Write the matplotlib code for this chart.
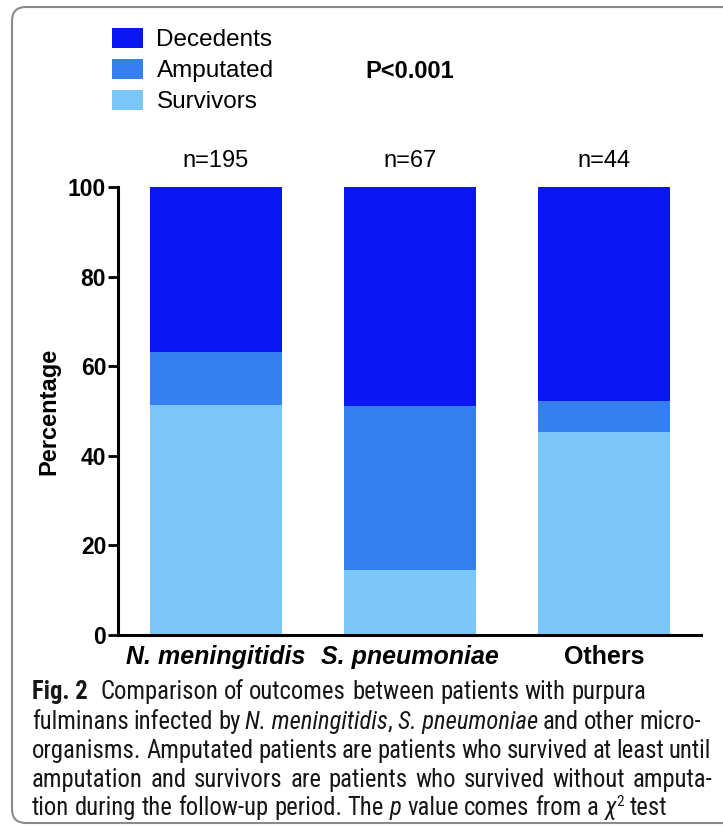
import matplotlib
matplotlib.use("Agg")
import matplotlib.pyplot as plt
from matplotlib import font_manager
from matplotlib.patches import FancyBboxPatch
from matplotlib.transforms import IdentityTransform

# data (percent of each group)
groups = ["N. meningitidis", "S. pneumoniae", "Others"]
group_n = [195, 67, 44]
survivors = [51.3, 14.6, 45.4]
amputated = [11.9, 36.5, 6.9]
decedents = [36.8, 48.9, 47.7]
p_text = "P<0.001"

W, H = 723, 826
chart_font = "Liberation Sans"

# condensed face for the caption, if one is there
cap_font = "Liberation Sans"
for name in ["Roboto Condensed", "Liberation Sans Narrow"]:
    try:
        font_manager.findfont(font_manager.FontProperties(family=name), fallback_to_default=False)
        cap_font = name
        break
    except ValueError:
        pass

plt.rcParams["font.family"] = [chart_font, "DejaVu Sans"]

fig = plt.figure(figsize=(W / 100, H / 100), dpi=100)
ax = fig.add_axes([118 / W, 1 - 635 / H, (701 - 118) / W, (635 - 187) / H])

x = list(range(len(groups)))
bw = 0.685
bottom2 = [s + a for s, a in zip(survivors, amputated)]
b1 = ax.bar(x, survivors, bw, color="#7cc7f9", label="Survivors")
b2 = ax.bar(x, amputated, bw, bottom=survivors, color="#3580f0", label="Amputated")
b3 = ax.bar(x, decedents, bw, bottom=bottom2, color="#0a17f2", label="Decedents")

ax.set_xlim(-0.505, 2.5)
ax.set_ylim(0, 100)
ax.set_yticks([0, 20, 40, 60, 80, 100])
for s in ["top", "right"]:
    ax.spines[s].set_visible(False)
for s in ["left", "bottom"]:
    ax.spines[s].set_linewidth(2.2)
ax.tick_params(axis="y", length=7, width=2, pad=1.5, labelsize=16.5)
ax.tick_params(axis="x", length=0, pad=7, labelsize=18)
for lab in ax.get_yticklabels():
    lab.set_fontweight("bold")
ax.set_xticks(x)
ax.set_xticklabels(groups)
for i, lab in enumerate(ax.get_xticklabels()):
    lab.set_fontweight("bold")
    if i < 2:
        lab.set_fontstyle("italic")

ax.set_ylabel("Percentage", fontsize=17, fontweight="bold")
ax.yaxis.set_label_coords(-0.0995, 0.5)

for i, n in enumerate(group_n):
    ax.annotate(f"n={n}", xy=(i, 100), xytext=(0, 14.4), textcoords="offset points",
                ha="center", va="baseline", fontsize=17)

fig.text(410 / W, 1 - 78 / H, p_text, ha="center", va="baseline", fontsize=17, fontweight="bold")

fig.legend(handles=[b3, b2, b1], loc="upper left", bbox_to_anchor=(112 / W, 1 - 28 / H),
           frameon=False, fontsize=17.5, handlelength=1.28, handleheight=0.9,
           handletextpad=0.55, labelspacing=0.3, borderpad=0, borderaxespad=0)

# rounded frame round the figure
frame = FancyBboxPatch((12, 3), 760, 816, boxstyle="round,pad=0,rounding_size=14",
                       transform=IdentityTransform(), fill=False, edgecolor="#8a8a8a", lw=1.5)
fig.add_artist(frame)

# caption lines: words split on spaces, | is a space kept inside a word,
# _..._ is italic, ^...^ is superscript, *...* is bold
caption = [
    ("*Fig.|2*", "Comparison of outcomes between patients with purpura", False),
    ("", "fulminans infected by _N.|meningitidis_, _S.|pneumoniae_ and other micro-", True),
    ("", "organisms. Amputated patients are patients who survived at least until", True),
    ("", "amputation and survivors are patients who survived without amputa-", True),
    ("", "tion during the follow-up period. The _p_ value comes from a _χ_^2^ test", False),
]
cap_size = 17.7
renderer = fig.canvas.get_renderer()


def parse_word(word):
    pieces = []
    style = "normal"
    buf = ""
    marks = {"_": "italic", "^": "sup", "*": "bold"}
    for c in word:
        if c in marks:
            if buf:
                pieces.append((buf, style))
            buf = ""
            style = "normal" if style == marks[c] else marks[c]
        else:
            buf += " " if c == "|" else c
    if buf:
        pieces.append((buf, style))
    return pieces


def piece_text(xp, yp, txt, style):
    kw = dict(fontsize=cap_size, family=[cap_font, "DejaVu Sans"], va="baseline", ha="left",
              transform=IdentityTransform(), color="#161616")
    if style == "italic":
        kw["fontstyle"] = "italic"
    if style == "sup":
        kw["fontsize"] = cap_size * 0.62
        yp += 9
    if style == "bold":
        kw["fontweight"] = "bold"
    t = fig.text(xp, yp, txt, **kw)
    return t, t.get_window_extent(renderer).width


t1 = fig.text(0, 0, "a a", fontsize=cap_size, family=[cap_font])
t2 = fig.text(0, 0, "aa", fontsize=cap_size, family=[cap_font])
space_w = t1.get_window_extent(renderer).width - t2.get_window_extent(renderer).width
t1.remove()
t2.remove()

baselines = [699, 729, 758, 787, 815]
right_edge = [0, 701, 711, 712, 0]
x0 = 32
for li, (head, line, justify) in enumerate(caption):
    yb = H - baselines[li]
    words = ([head] if head else []) + line.split(" ")
    drawn = []
    widths = []
    for word in words:
        arts = []
        ww = 0
        for txt, st in parse_word(word):
            t, w = piece_text(0, yb, txt, st)
            arts.append((t, ww))
            ww += w
        drawn.append(arts)
        widths.append(ww)
    gaps = [space_w] * (len(words) - 1)
    if head:
        gaps[0] = space_w * 2.2
    if justify:
        extra = right_edge[li] - x0 - sum(widths) - sum(gaps)
        gaps = [g + extra / len(gaps) for g in gaps]
    xp = x0
    for wi, arts in enumerate(drawn):
        for t, off in arts:
            t.set_x(xp + off)
        xp += widths[wi] + (gaps[wi] if wi < len(gaps) else 0)

fig.savefig("out.png", dpi=100)
